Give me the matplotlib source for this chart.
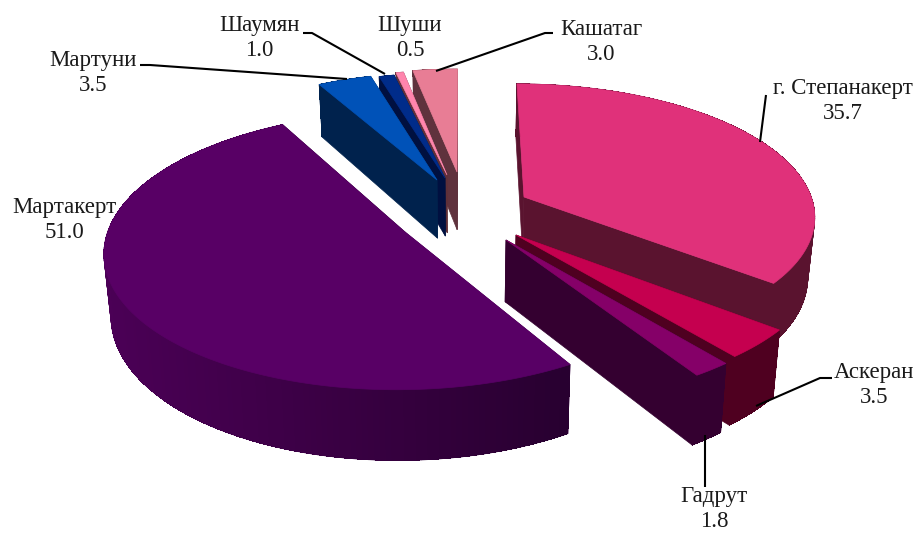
import numpy as np
import matplotlib
matplotlib.use('Agg')
import matplotlib.pyplot as plt
from matplotlib.colors import to_rgb

plt.rcParams['font.family'] = ['Liberation Serif', 'DejaVu Serif']

# data
districts = ['г. Степанакерт', 'Аскеран', 'Гадрут', 'Мартакерт', 'Мартуни', 'Шаумян', 'Шуши', 'Кашатаг']
shares = [35.7, 3.5, 1.8, 51.0, 3.5, 1.0, 0.5, 3.0]

# styles per slice
top_colors = ['#E0317A', '#C5004F', '#850068', '#580065', '#0052B8', '#002C8A', '#FF85AD', '#E87D95']
wall_left = ['#5A132F', '#4F0020', '#340030', '#4B0056', '#00224D', '#001040', '#5F3038', '#5F323D']
wall_right = ['#5A132F', '#4F0020', '#340030', '#280030', '#00224D', '#001040', '#5F3038', '#5F323D']
# where the tip of each pulled out slice lands, in pixels
tips = [(524, 197), (516, 235), (506, 240), (405, 232), (437, 180), (445, 178), (447, 175), (457, 172)]
reach = [1, 1.015, 1.02, 1, 0.98, 0.96, 0.96, 0.95]
start_trim = [0, 0, 0, 1.5, 0, 0, 0, 0]
# back to front
draw_order = [7, 6, 5, 4, 0, 1, 2, 3]

label_xy = [(843, 101), (874, 385), (714, 509), (64, 220), (93, 73), (259, 38), (410, 38), (601, 42)]
leaders = [
    [(766, 95), (760, 142)],
    [(832, 378), (820, 378), (756, 406)],
    [(705, 487), (705, 435)],
    None,
    [(140, 65), (150, 65), (347, 79)],
    [(303, 33), (312, 33), (385, 74)],
    None,
    [(553, 33), (545, 33), (436, 71)],
]

# view of the tilted disc
cx, cy = 462, 210
sx, sy = 291, 131
persp = 0.13
depth = 60
squeeze = 0.98


def project(u, v, z=0.0):
    s = 1 / (1 + persp * v)
    x = cx + sx * u * s
    y = cy - sy * v * s + depth * z * s
    x = cx + (x - cx) * (1 - (1 - squeeze) * z)
    return x, y


def unproject(x, y):
    a = (x - cx) / sx
    b = (cy - y) / sy
    v = b / (1 - persp * b)
    return a * (1 + persp * v), v


def draw_face(ax, xs, ys, color, zorder):
    ax.fill(xs, ys, facecolor=color, edgecolor=color, linewidth=0.5, zorder=zorder)


fig = plt.figure(figsize=(9.19, 5.33), dpi=100)
ax = fig.add_axes([0, 0, 1, 1])
ax.set_xlim(0, 919)
ax.set_ylim(533, 0)
ax.axis('off')

edges = np.concatenate([[0], np.cumsum(shares)]) / np.sum(shares) * 2 * np.pi
z = 1
for i in draw_order:
    u0, v0 = unproject(*tips[i])
    th = np.linspace(edges[i] + np.radians(start_trim[i]), edges[i + 1], max(int(np.degrees(edges[i + 1] - edges[i])), 2) + 1)
    u = u0 + reach[i] * np.sin(th)
    v = v0 + reach[i] * np.cos(th)

    # radial walls
    for k in (0, -1):
        px, py = project(np.array([u0, u[k], u[k], u0]), np.array([v0, v[k], v[k], v0]), np.array([0, 0, 1, 1]))
        draw_face(ax, px, py, wall_right[i] if k == -1 or i != 3 else wall_left[i], z)
        z += 1

    # outer wall, shaded left to right where the two end colours differ
    top_x, top_y = project(u, v)
    low_x, low_y = project(u, v, 1.0)
    c_l = np.array(to_rgb(wall_left[i]))
    c_r = np.array(to_rgb(wall_right[i]))
    span = max(top_x.max() - top_x.min(), 1)
    order = np.argsort(-v[:-1])
    # first pass gives the smooth outline, second one covers the seams between strips
    for aa in (True, False):
        for j in order:
            t = (top_x[j] - top_x.min()) / span
            color = c_l + (c_r - c_l) * t
            qx = [top_x[j], top_x[j + 1], low_x[j + 1], low_x[j]]
            qy = [top_y[j], top_y[j + 1], low_y[j + 1], low_y[j]]
            if aa:
                draw_face(ax, qx, qy, color, z)
            else:
                ax.fill(qx, qy, facecolor=color, edgecolor='none', antialiased=False, zorder=z)
            z += 1

    # top
    ax_, ay_ = project(u0, v0)
    draw_face(ax, np.r_[ax_, top_x], np.r_[ay_, top_y], top_colors[i], z)
    z += 1

for name, val, xy, line in zip(districts, shares, label_xy, leaders):
    if line is not None:
        ax.plot([p[0] for p in line], [p[1] for p in line], color='black', lw=1.5, zorder=z, solid_capstyle='butt')
    ax.text(xy[0], xy[1], f'{name}\n{val:.1f}', ha='center', va='center', fontsize=16.5,
            color='#1a1a1a', linespacing=1.28, zorder=z + 1)

fig.savefig('out.png', dpi=100)
